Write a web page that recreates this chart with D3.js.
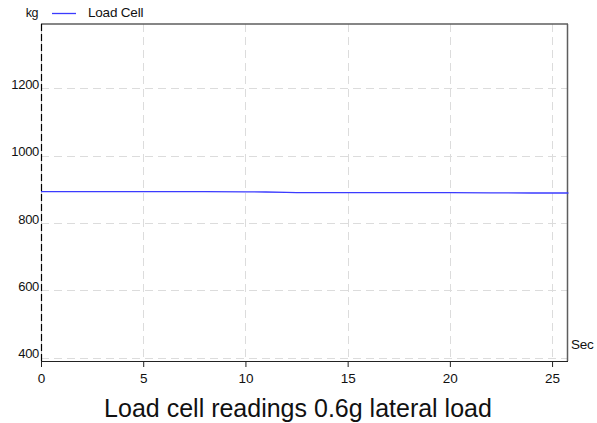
<!DOCTYPE html>
<html>
<head>
<meta charset="utf-8">
<script src="https://cdn.jsdelivr.net/npm/d3@7"></script>
<style>
  body { margin: 0; background: #fff; }
  svg { display: block; font-family: "Liberation Sans", Arial, sans-serif; }
</style>
</head>
<body>
<svg id="chart" width="597" height="423"></svg>
<script>
// Load cell reading over time (seconds, kg)
const timeSec = [0, 2, 4, 6, 8, 10, 11, 12, 12.5, 14, 16, 18, 20, 22, 24, 25.8];
const loadKg  = [893, 893, 893, 893, 893, 892.5, 892, 891, 890, 890, 890, 890, 890, 889.5, 889, 889];
const xTicks = [0, 5, 10, 15, 20, 25];
const yTicks = [400, 600, 800, 1000, 1200];
const seriesName = "Load Cell";
const yUnit = "kg";
const xUnit = "Sec";
const title = "Load cell readings 0.6g lateral load";

const svg = d3.select("#chart");
const m = { left: 41, right: 567, top: 24, bottom: 361 };

const x = d3.scaleLinear().domain([0, 25.73]).range([m.left, m.right]);
const y = d3.scaleLinear().domain([391, 1390]).range([m.bottom, m.top]);

// grid
const grid = svg.append("g").attr("stroke", "#dcdcdc").attr("stroke-width", 1)
  .attr("stroke-dasharray", "8,5").attr("fill", "none");
grid.selectAll("line.v").data(xTicks.filter(d => d > 0)).join("line")
  .attr("x1", d => Math.round(x(d)) + 0.5).attr("x2", d => Math.round(x(d)) + 0.5)
  .attr("y1", m.top).attr("y2", m.bottom);
grid.selectAll("line.h").data(yTicks).join("line")
  .attr("x1", m.left).attr("x2", m.right)
  .attr("y1", d => Math.round(y(d)) + 0.5).attr("y2", d => Math.round(y(d)) + 0.5);

// frame: top and right borders
svg.append("line").attr("x1", m.left).attr("x2", m.right + 1).attr("y1", m.top).attr("y2", m.top)
  .attr("stroke", "#5e5e5e").attr("stroke-width", 1.6);
svg.append("line").attr("x1", m.right + 0.5).attr("x2", m.right + 0.5).attr("y1", m.top).attr("y2", m.bottom)
  .attr("stroke", "#5e5e5e").attr("stroke-width", 1.5);

// left axis: grey base with black dashes
svg.append("line").attr("x1", m.left + 0.5).attr("x2", m.left + 0.5).attr("y1", m.top).attr("y2", m.bottom)
  .attr("stroke", "#c8c8c8").attr("stroke-width", 1);
svg.append("line").attr("x1", m.left + 0.5).attr("x2", m.left + 0.5).attr("y1", m.top).attr("y2", m.bottom)
  .attr("stroke", "#000").attr("stroke-width", 1.2).attr("stroke-dasharray", "7,3");

// y tick labels sit on their gridline
svg.append("g").selectAll("text").data(yTicks).join("text")
  .attr("x", m.left - 2).attr("y", d => y(d) + 0.5)
  .attr("text-anchor", "end").attr("font-size", 13).attr("letter-spacing", -0.3).attr("fill", "#111")
  .text(d => d);

// bottom axis
const xAxis = d3.axisBottom(x).tickValues(xTicks).tickSize(6).tickPadding(6).tickFormat(d3.format("d"));
const gx = svg.append("g").attr("transform", `translate(0,${m.bottom})`).call(xAxis);
gx.select(".domain").attr("stroke", "#222").attr("stroke-width", 1.2).attr("d", `M${m.left},0.5H${m.right + 1}`);
gx.selectAll(".tick line").attr("stroke", "#222");
gx.selectAll(".tick text").attr("font-size", 13.5).attr("fill", "#111")
  .attr("font-family", "'Liberation Sans', Arial, sans-serif");

// series line
const line = d3.line().x((d, i) => x(timeSec[i])).y(d => y(d));
svg.append("path").datum(loadKg).attr("d", line)
  .attr("fill", "none").attr("stroke", "#3b3bff").attr("stroke-width", 1.3);

// unit labels and legend
svg.append("text").attr("x", 38).attr("y", 17).attr("text-anchor", "end")
  .attr("font-size", 12.5).attr("letter-spacing", -0.5).attr("fill", "#111").text(yUnit);
svg.append("line").attr("x1", 52).attr("x2", 76).attr("y1", 13.5).attr("y2", 13.5)
  .attr("stroke", "#3b3bff").attr("stroke-width", 1.3);
svg.append("text").attr("x", 88).attr("y", 17).attr("font-size", 13.5)
  .attr("letter-spacing", -0.2).attr("fill", "#111").text(seriesName);
svg.append("text").attr("x", 571).attr("y", 349).attr("font-size", 13.5)
  .attr("letter-spacing", -0.3).attr("fill", "#111").text(xUnit);

// title
svg.append("text").attr("x", 298).attr("y", 417).attr("text-anchor", "middle")
  .attr("font-size", 25).attr("fill", "#111").text(title);
</script>
</body>
</html>
